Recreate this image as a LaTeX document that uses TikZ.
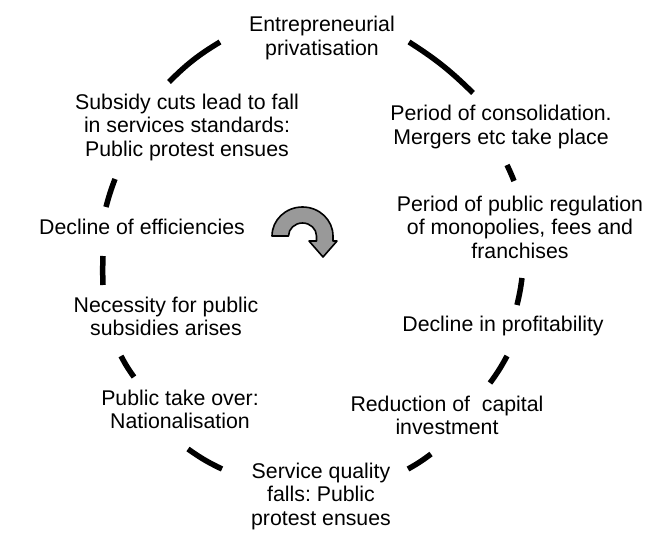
\documentclass[tikz,border=0pt]{standalone}
\usepackage{fontspec}
\setmainfont{Liberation Sans}
\frenchspacing
\definecolor{turngray}{gray}{0.6}
\begin{document}
\begin{tikzpicture}[x=1pt,y=1pt,
  lbl/.style={align=center, font=\fontsize{21.3pt}{23.5pt}\selectfont, inner sep=0pt},
  cyclearc/.style={line width=5.5pt, line cap=butt},
  turnarrow/.style={fill=turngray, draw=black, line width=1.6pt, line join=round}]
\useasboundingbox (0,0) rectangle (653,539);

% stages of the cycle
\node[lbl] (entre) at (322,501) {Entrepreneurial\\privatisation};
\node[lbl] (cons)  at (501,412) {Period of consolidation.\\Mergers etc take place};
\node[lbl] (reg)   at (520,312) {Period of public regulation\\of monopolies, fees and\\franchises};
\node[lbl] (prof)  at (503,213) {Decline in profitability};
\node[lbl] (red)   at (447,123.5) {Reduction of\ \ capital\\investment};
\node[lbl] (serv)  at (321,43) {Service quality\\falls: Public\\protest ensues};
\node[lbl] (nat)   at (180,129.5) {Public take over:\\Nationalisation};
\node[lbl] (nec)   at (166,222.5) {Necessity for public\\subsidies arises};
\node[lbl] (eff)   at (142,312) {Decline of efficiencies};
\node[lbl] (sub)   at (187,412) {Subsidy cuts lead to fall\\in services standards:\\Public protest ensues};

% end points of the arc pieces between the stages
\coordinate (a1s) at (409,497);  \coordinate (a1e) at (473,446);
\coordinate (a2s) at (507,374);  \coordinate (a2e) at (514,358);
\coordinate (a3s) at (522,261);  \coordinate (a3e) at (517,234);
\coordinate (a4s) at (507,183);  \coordinate (a4e) at (490,156);
\coordinate (a5s) at (431,85);   \coordinate (a5e) at (408,70);
\coordinate (a6s) at (222,70);   \coordinate (a6e) at (188,90);
\coordinate (a7s) at (134,162);  \coordinate (a7e) at (121,183);
\coordinate (a8s) at (103,254);  \coordinate (a8e) at (103,283);
\coordinate (a9s) at (106,332);  \coordinate (a9e) at (115,360);
\coordinate (a10s) at (169,457); \coordinate (a10e) at (220,497);

\draw[cyclearc] (a1s) to[bend left=6] (a1e);
\draw[cyclearc] (a2s) to[bend left=2] (a2e);
\draw[cyclearc] (a3s) to[bend left=3] (a3e);
\draw[cyclearc] (a4s) to[bend left=4] (a4e);
\draw[cyclearc] (a5s) to[bend left=4] (a5e);
\draw[cyclearc] (a6s) to[bend left=5] (a6e);
\draw[cyclearc] (a7s) to[bend left=4] (a7e);
\draw[cyclearc] (a8s) to[bend left=2] (a8e);
\draw[cyclearc] (a9s) to[bend left=3] (a9e);
\draw[cyclearc] (a10s) to[bend left=7] (a10e);

% clockwise turning arrow in the middle
\draw[turnarrow] (272,303) arc[start angle=180, end angle=0, x radius=30.5, y radius=29]
  -- (333,298) -- (337,298) -- (323,282) -- (309,298) -- (316.5,298) -- (316.5,303)
  arc[start angle=0, end angle=180, x radius=14, y radius=13] -- cycle;
\end{tikzpicture}
\end{document}
